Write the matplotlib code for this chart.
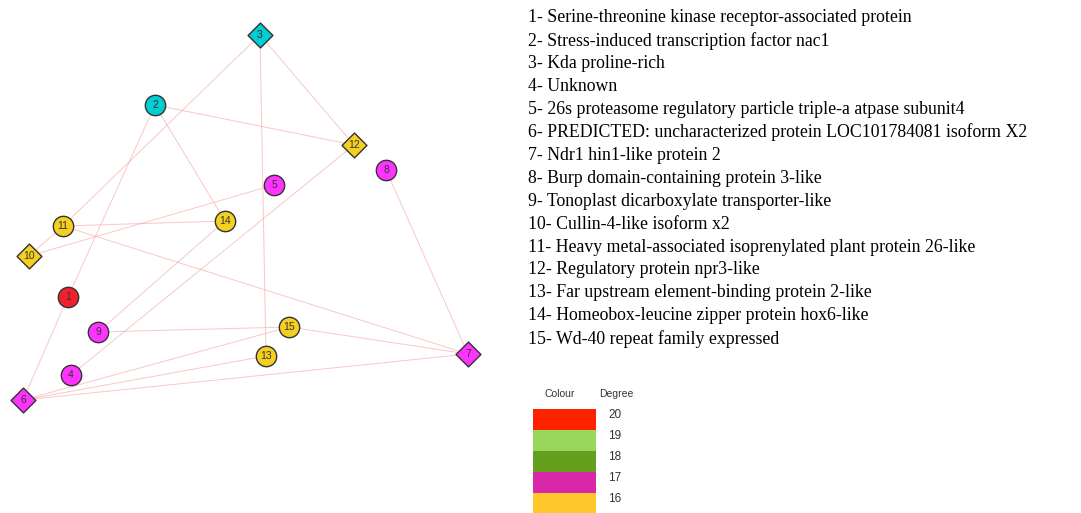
import matplotlib.pyplot as plt

# node positions (pixel coords of the reference picture)
node_ids = [1, 2, 3, 4, 5, 6, 7, 8, 9, 10, 11, 12, 13, 14, 15]
node_x = [68, 155, 260, 71, 274, 23, 468, 386, 98, 29, 63, 354, 266, 225, 289]
node_y = [297, 105, 35, 375, 185, 400, 354, 170, 332, 256, 226, 145, 356, 221, 327]
node_shape = ["o", "o", "D", "o", "o", "D", "D", "o", "o", "D", "o", "D", "o", "o", "o"]
node_color = ["#F0202E", "#00CED1", "#00CED1", "#FF33FF", "#FF33FF", "#FF33FF",
              "#FF33FF", "#FF33FF", "#FF33FF", "#F5D020", "#F5D020", "#F5D020",
              "#F5D020", "#F5D020", "#F5D020"]

edges = [(3, 11), (3, 13), (3, 12), (2, 12), (2, 1), (2, 14), (12, 4), (14, 9),
         (5, 10), (11, 14), (11, 10), (11, 7), (8, 7), (1, 6), (9, 15), (15, 7),
         (15, 6), (13, 6), (6, 7)]

protein_names = [
    "Serine-threonine kinase receptor-associated protein",
    "Stress-induced transcription factor nac1",
    "Kda proline-rich",
    "Unknown",
    "26s proteasome regulatory particle triple-a atpase subunit4",
    "PREDICTED: uncharacterized protein LOC101784081 isoform X2",
    "Ndr1 hin1-like protein 2",
    "Burp domain-containing protein 3-like",
    "Tonoplast dicarboxylate transporter-like",
    "Cullin-4-like isoform x2",
    "Heavy metal-associated isoprenylated plant protein 26-like",
    "Regulatory protein npr3-like",
    "Far upstream element-binding protein 2-like",
    "Homeobox-leucine zipper protein hox6-like",
    "Wd-40 repeat family expressed",
]

degree_values = [20, 19, 18, 17, 16]
degree_colors = ["#FF2200", "#99D65E", "#64A01E", "#D827A8", "#FFC729"]

fig = plt.figure(figsize=(10.81, 5.13), dpi=100)
ax = fig.add_axes([0, 0, 1, 1])
ax.set_xlim(0, 1081)
ax.set_ylim(513, 0)
ax.axis("off")

pos = {n: (x, y) for n, x, y in zip(node_ids, node_x, node_y)}

# edges
for u, v in edges:
    ax.plot([pos[u][0], pos[v][0]], [pos[u][1], pos[v][1]],
            color="#F5A3A3", lw=0.7, alpha=0.6, zorder=1)

# nodes
for n, x, y, m, c in zip(node_ids, node_x, node_y, node_shape, node_color):
    size = 215 if m == "o" else 160
    ax.scatter([x], [y], s=size, marker=m, color=c, edgecolors="#333333",
               linewidths=1.0, zorder=2)
    ax.text(x, y, str(n), ha="center", va="center", fontsize=7.5,
            family="Liberation Sans", color="#333333", zorder=3)

# protein list
for i, name in enumerate(protein_names):
    ax.text(528, 18 + i * 22.9, f"{i + 1}- {name}", ha="left", va="center",
            fontsize=12.8, family="Liberation Serif", color="black")

# degree legend
ax.text(560, 394, "Colour", ha="center", va="center", fontsize=7.5,
        family="Liberation Sans", color="#333333")
ax.text(616, 394, "Degree", ha="center", va="center", fontsize=7.5,
        family="Liberation Sans", color="#333333")
for i, (d, c) in enumerate(zip(degree_values, degree_colors)):
    y0 = 409 + i * 21
    ax.add_patch(plt.Rectangle((533, y0), 63, 21, color=c, lw=0))
    ax.text(608, y0 + 6, str(d), ha="left", va="center", fontsize=8.5,
            family="Liberation Sans", color="#333333")

plt.savefig("out.png", dpi=100)
